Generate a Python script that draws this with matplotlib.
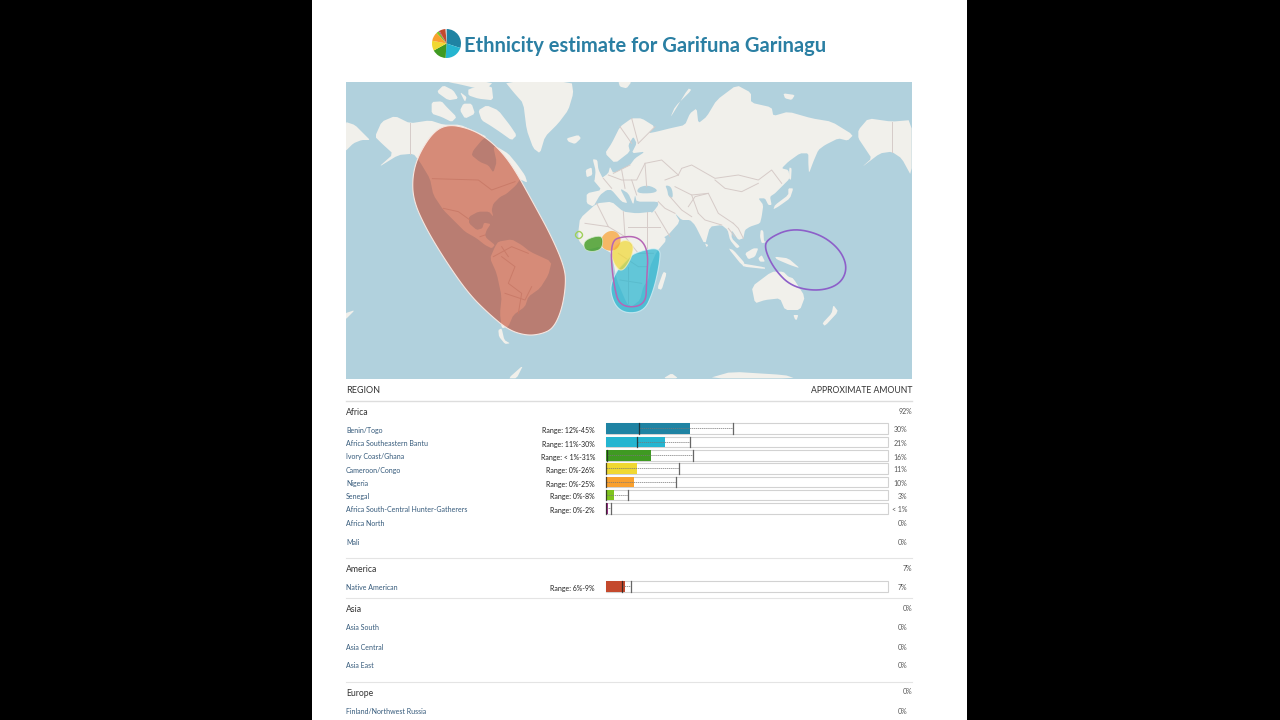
import matplotlib
matplotlib.use('Agg')
import numpy as np
import matplotlib.pyplot as plt
from matplotlib.patches import Polygon, Rectangle

plt.rcParams['font.family'] = ['Lato', 'DejaVu Sans']

# rows of the table
regions = ['Benin/Togo', 'Africa Southeastern Bantu', 'Ivory Coast/Ghana', 'Cameroon/Congo', 'Nigeria',
           'Senegal', 'Africa South-Central Hunter-Gatherers', 'Native American']
amounts = [30, 21, 16, 11, 10, 3, 0.8, 7]
amount_labels = ['30%', '21%', '16%', '11%', '10%', '3%', '< 1%', '7%']
range_low = [12, 11, 0.7, 0, 0, 0, 0, 6]
range_high = [45, 30, 31, 26, 25, 8, 2, 9]
range_labels = ['Range: 12%-45%', 'Range: 11%-30%', 'Range: < 1%-31%', 'Range: 0%-26%', 'Range: 0%-25%',
                'Range: 0%-8%', 'Range: 0%-2%', 'Range: 6%-9%']
bar_colors = ['#1f83a3', '#25b5d0', '#3f9a22', '#f0d832', '#f9a02e', '#7fc41f', '#a0308a', '#c4492d']
row_y = [430, 443.5, 457, 470, 483.5, 496.5, 510, 588]

empty_regions = ['Africa North', 'Mali', 'Asia South', 'Asia Central', 'Asia East', 'Finland/Northwest Russia']
empty_y = [523, 542.5, 627, 647, 666, 711.5]
groups = ['Africa', 'America', 'Asia', 'Europe']
group_amounts = ['92%', '7%', '0%', '0%']
group_y = [412.5, 570, 610, 693.5]
rule_y = [558, 598, 682]

# pie icon next to the title, the last slice is the unassigned rest
pie_shares = [30, 21, 16, 11, 10, 3, 1, 7, 1]
pie_colors = bar_colors + ['#d5dbe0']

# map outlines, in map units (3 per pixel, origin at the map corner)
ocean = '#b1d1dd'
land = '#f1f0eb'

north_america = [(90, 170), (110, 125), (150, 108), (195, 130), (255, 121), (295, 134), (345, 134), (395, 156), (425, 170),
                 (410, 181), (385, 211), (380, 226), (405, 246), (430, 256), (445, 278), (455, 246), (445, 201),
                 (457, 201), (490, 221), (515, 251), (540, 286), (547, 308), (525, 298), (513, 316), (485, 341),
                 (465, 351), (445, 371), (440, 390), (445, 410), (432, 395), (400, 395), (372, 410), (372, 430),
                 (395, 450), (412, 445), (417, 428), (437, 432), (425, 450), (420, 465), (425, 475), (450, 495),
                 (440, 505), (420, 495), (395, 475), (360, 455), (335, 430), (295, 390), (265, 345), (255, 296),
                 (225, 246), (205, 221), (160, 225), (100, 262), (145, 222), (110, 190)]
south_america = [(460, 485), (500, 478), (530, 495), (555, 515), (620, 545), (610, 585), (585, 625), (550, 650), (540, 680),
                 (505, 705), (490, 740), (470, 745), (465, 700), (470, 650), (455, 580), (435, 535), (450, 500)]
tierra_del_fuego = [(460, 750), (470, 745), (478, 780), (495, 790), (480, 792), (462, 770)]
chukotka = [(0, 125), (30, 135), (60, 165), (75, 180), (50, 180), (25, 190), (0, 215)]
greenland = [(480, 5), (680, 5), (685, 40), (670, 90), (640, 130), (600, 170), (585, 220), (565, 205), (545, 150),
             (535, 70), (505, 36)]
iceland = [(665, 175), (700, 165), (708, 175), (690, 192), (670, 185)]
svalbard = [(820, 5), (860, 5), (845, 25), (825, 20)]
arctic_islands = [
    [(260, 66), (290, 64), (305, 81), (335, 111), (320, 126), (290, 111), (260, 101)],
    [(295, 16), (325, 31), (340, 56), (310, 61), (275, 36)],
    [(355, 71), (380, 71), (390, 101), (360, 116), (345, 91)],
    [(400, 91), (425, 76), (460, 91), (495, 136), (515, 166), (500, 181), (465, 156), (435, 136), (410, 121)],
    [(370, 26), (440, 16), (445, 61), (400, 56), (370, 46)],
    [(305, 6), (445, 6), (420, 31), (340, 12)],
    [(345, 36), (365, 51), (360, 66)],
]
britain = [(743, 237), (757, 240), (760, 268), (775, 298), (748, 308), (752, 272)]
ireland = [(722, 270), (740, 262), (742, 285), (725, 292)]
eurasia = [(860, 115), (890, 115), (930, 140), (910, 160), (935, 155), (975, 145), (1020, 135), (1035, 100), (1055, 85),
           (1060, 130), (1085, 110), (1115, 60), (1175, 15), (1218, 38), (1218, 68), (1280, 82), (1285, 108),
           (1330, 95), (1400, 115), (1460, 125), (1525, 165), (1508, 182), (1480, 175), (1440, 195), (1420, 210),
           (1405, 245), (1392, 280), (1390, 250), (1390, 220), (1365, 220), (1330, 245), (1310, 265), (1330, 270),
           (1335, 295), (1300, 330), (1290, 340), (1275, 350), (1280, 375), (1270, 375), (1260, 355), (1240, 355),
           (1255, 375), (1250, 410), (1245, 430), (1215, 440), (1200, 450), (1195, 475), (1180, 480), (1160, 450),
           (1160, 475), (1185, 500), (1175, 505), (1155, 480), (1148, 450), (1130, 435), (1095, 440), (1080, 495),
           (1050, 435), (1035, 420), (1010, 420), (990, 400), (1005, 425), (965, 470), (925, 475), (905, 410),
           (925, 395), (940, 375), (938, 365), (875, 365), (870, 345), (865, 375), (850, 340), (825, 325), (848, 370),
           (830, 365), (800, 330), (785, 330), (765, 345), (745, 380), (725, 370), (725, 340), (770, 330), (745, 300),
           (755, 305), (790, 280), (795, 260), (805, 280), (855, 255), (870, 235), (900, 215), (860, 220), (875, 190),
           (865, 170), (850, 195), (855, 215), (810, 250), (780, 220), (800, 190), (825, 140)]
black_sea = [(880, 322), (910, 315), (940, 330), (925, 340), (875, 340)]
caspian = [(960, 315), (980, 320), (985, 355), (970, 350), (967, 330)]
africa = [(700, 455), (705, 415), (755, 370), (800, 365), (835, 395), (875, 400), (925, 395), (945, 455), (965, 480), (935, 515),
          (915, 560), (910, 600), (895, 620), (885, 660), (860, 680), (845, 670), (815, 600), (800, 520), (765, 500),
          (725, 510), (700, 480)]
madagascar = [(955, 575), (965, 580), (950, 630), (937, 625)]
sri_lanka = [(1080, 490), (1090, 495), (1085, 502)]
japan = [(1345, 325), (1335, 355), (1300, 380), (1285, 388), (1290, 375), (1330, 345), (1330, 325)]
sakhalin = [(1333, 262), (1340, 265), (1338, 300), (1332, 296)]
philippines = [(1247, 450), (1255, 452), (1257, 485), (1270, 485), (1250, 490), (1245, 470)]
borneo = [(1200, 520), (1225, 505), (1240, 505), (1230, 530), (1210, 538)]
sumatra = [(1150, 505), (1165, 510), (1200, 550), (1190, 555)]
java = [(1190, 550), (1260, 562), (1260, 567), (1195, 560)]
sulawesi = [(1240, 535), (1250, 525), (1260, 545), (1245, 545)]
new_guinea = [(1290, 530), (1330, 535), (1365, 565), (1335, 555), (1295, 538)]
australia = [(1220, 620), (1280, 575), (1315, 575), (1330, 590), (1345, 595), (1380, 650), (1365, 690), (1320, 690),
             (1305, 655), (1260, 660), (1230, 670)]
tasmania = [(1345, 705), (1360, 705), (1355, 720), (1350, 718)]
new_zealand = [(1465, 675), (1480, 695), (1440, 738), (1432, 730), (1460, 700)]
novaya_zemlya = [(975, 115), (1030, 25), (1040, 30), (990, 80)]
severnaya = [(1315, 40), (1350, 45), (1340, 60), (1320, 55)]
alaska = [(1540, 150), (1570, 115), (1640, 125), (1700, 120), (1700, 290), (1670, 235), (1640, 215), (1605, 220),
          (1550, 262), (1580, 235), (1560, 205), (1540, 175)]
antarctica_a = [(955, 895), (980, 880), (1000, 895)]
antarctica_b = [(1090, 895), (1160, 875), (1320, 885), (1350, 895)]
antarctic_tip = [(490, 895), (535, 855), (515, 895)]
aleutian_end = [(0, 700), (30, 690), (0, 720)]
land_shapes = [north_america, south_america, tierra_del_fuego, chukotka, greenland, iceland, svalbard, britain, ireland,
               eurasia, africa, madagascar, sri_lanka, japan, sakhalin, philippines, borneo, sumatra, java, sulawesi,
               new_guinea, australia, tasmania, new_zealand, novaya_zemlya, severnaya, alaska, antarctica_a,
               antarctica_b, antarctic_tip, aleutian_end] + arctic_islands
inland_seas = [black_sea, caspian]

borders = [[(195, 130), (195, 222)], [(262, 296), (400, 300), (440, 330), (510, 305)], [(295, 385), (340, 395), (375, 420)],
           [(1640, 125), (1640, 215)],
           [(405, 470), (420, 465)], [(470, 530), (510, 560), (490, 610), (530, 640), (520, 700)],
           [(445, 530), (500, 500), (550, 520)], [(480, 640), (540, 660), (560, 620)], [(470, 500), (490, 530)],
           [(1000, 285), (1010, 265), (1040, 255), (1110, 295), (1180, 285), (1240, 300), (1280, 270), (1310, 310)],
           [(1110, 300), (1140, 325), (1190, 335), (1240, 310)],
           [(990, 320), (1040, 345), (1090, 340), (1120, 400), (1165, 430)],
           [(975, 350), (1010, 390), (1040, 410)], [(1040, 345), (1060, 400)], [(1090, 340), (1050, 350), (1030, 380)],
           [(1060, 400), (1080, 420), (1130, 435)], [(1165, 430), (1180, 445), (1195, 475)], [(1150, 445), (1170, 470)],
           [(825, 140), (860, 190)], [(860, 115), (880, 190)], [(880, 190), (930, 140)],
           [(790, 285), (830, 300), (875, 300), (900, 250), (950, 240), (1000, 285)], [(775, 295), (800, 325)],
           [(830, 270), (840, 325)], [(860, 300), (875, 345)], [(900, 250), (905, 320)], [(805, 280), (855, 255)],
           [(960, 300), (1000, 285)], [(940, 365), (960, 385), (990, 400)], [(930, 395), (975, 470)],
           [(755, 370), (790, 440), (840, 470), (835, 395)], [(790, 440), (720, 430)], [(850, 440), (945, 440)],
           [(905, 395), (905, 520)], [(840, 470), (880, 520), (925, 520)], [(820, 520), (880, 560), (905, 560)],
           [(825, 600), (890, 610)], [(850, 560), (850, 670)]]

# estimate regions drawn over the map
native_area = [(310, 133), (370, 145), (420, 170), (470, 215), (510, 270), (560, 360), (620, 470), (660, 565), (662, 620),
               (650, 690), (625, 745), (590, 762), (545, 767), (490, 750), (430, 700), (370, 640), (300, 540), (240, 440),
               (205, 360), (202, 290), (220, 225), (265, 155)]
orange_area = [(768, 472), (790, 452), (815, 454), (830, 478), (818, 508), (790, 514), (768, 500)]
yellow_area = [(797, 512), (835, 476), (868, 492), (858, 538), (830, 578), (806, 552)]
green_area = [(716, 484), (745, 470), (774, 468), (772, 506), (745, 516), (718, 510)]
senegal_ring = [(688, 465), (702, 451), (716, 465), (702, 479)]
cyan_area = [(868, 518), (945, 500), (945, 545), (925, 635), (895, 698), (822, 698), (792, 632), (812, 575), (846, 540)]
pink_ring = [(818, 472), (878, 468), (910, 510), (905, 600), (902, 678), (824, 682), (806, 612), (798, 530), (802, 488)]
pacific_ring = [(1268, 476), (1340, 444), (1425, 462), (1485, 508), (1508, 565), (1484, 614), (1420, 634), (1340, 620),
                (1288, 568), (1258, 505)]


def to_px(points):
    p = np.array(points, dtype=float)
    return np.column_stack((345 + p[:, 0] / 3, 80 + p[:, 1] / 3))


def rounded(points, passes=3, cut=0.25):
    # corner cutting, so the hand placed outlines come out as soft curves
    p = np.array(points, dtype=float)
    for _ in range(passes):
        n = np.roll(p, -1, axis=0)
        p = np.column_stack(((1 - cut) * p + cut * n, cut * p + (1 - cut) * n)).reshape(-1, 2)
    return p


fig = plt.figure(figsize=(12.8, 7.2), dpi=100, facecolor='black')
ax = fig.add_axes([0, 0, 1, 1])
ax.set_xlim(0, 1280)
ax.set_ylim(720, 0)
ax.axis('off')
ax.add_patch(Rectangle((312, 0), 655, 720, fc='white', ec='none', zorder=0))

# map
sea = Rectangle((346, 81.5), 566, 297.5, fc=ocean, ec='none', zorder=1)
ax.add_patch(sea)
for shape in land_shapes:
    g = Polygon(to_px(rounded(shape, 1, 0.15)), fc=land, ec='none', zorder=2)
    ax.add_patch(g)
    g.set_clip_path(sea)
for shape in inland_seas:
    ax.add_patch(Polygon(to_px(rounded(shape, 2)), fc=ocean, ec='none', zorder=2.5))
for line in borders:
    xy = to_px(line)
    ax.plot(xy[:, 0], xy[:, 1], color='#d6cbc8', lw=0.7, zorder=3)

ax.add_patch(Polygon(to_px(rounded(native_area)), fc='#c0391a', alpha=0.55, ec='none', zorder=4))
ax.add_patch(Polygon(to_px(rounded(native_area)), fc='none', ec='#f6e6e0', lw=0.8, zorder=4))
ax.add_patch(Polygon(to_px(rounded(cyan_area)), fc='#25b5d0', alpha=0.7, ec='#d8f2f8', lw=0.8, zorder=4))
ax.add_patch(Polygon(to_px(rounded(yellow_area)), fc='#f0d832', alpha=0.7, ec='#faf3c0', lw=0.8, zorder=5))
ax.add_patch(Polygon(to_px(rounded(orange_area)), fc='#f9a02e', alpha=0.7, ec='none', zorder=5))
ax.add_patch(Polygon(to_px(rounded(green_area)), fc='#3f9a22', alpha=0.8, ec='#d9eecf', lw=0.6, zorder=5))
ax.add_patch(Polygon(to_px(rounded(senegal_ring)), fc='none', ec='#9fd05a', lw=1, zorder=5))
ax.add_patch(Polygon(to_px(rounded(pink_ring)), fc='none', ec='#b565b5', lw=1.1, zorder=6))
ax.add_patch(Polygon(to_px(rounded(pacific_ring)), fc='none', ec='#8d5fc9', lw=1.2, zorder=6))

# title and pie icon
ax.text(464, 45.5, 'Ethnicity estimate for Garifuna Garinagu', color='#2a7fa3', fontsize=14.5, fontweight='bold',
        va='center', ha='left')
pie_ax = fig.add_axes([432 / 1280, 1 - 58 / 720, 29 / 1280, 29 / 720])
pie_ax.pie(pie_shares, colors=pie_colors, startangle=90, counterclock=False, radius=1.0)
pie_ax.set_xlim(-1, 1)
pie_ax.set_ylim(-1, 1)

# table text
label_blue = '#34597a'
ax.text(346, 390.5, 'REGION', fontsize=6.5, color='#333333', va='center')
ax.text(912, 390.5, 'APPROXIMATE AMOUNT', fontsize=6.2, color='#333333', va='center', ha='right')
ax.plot([346, 912], [400.5, 400.5], color='#dddddd', lw=1)
for y in rule_y:
    ax.plot([346, 912], [y, y], color='#e4e4e4', lw=0.8)
for name, pct, y in zip(groups, group_amounts, group_y):
    ax.text(346, y, name, fontsize=6.2, color='#333333', va='center')
    ax.text(912, y - 1.5, pct, fontsize=5, color='#555555', va='center', ha='right')
for name, y in zip(empty_regions, empty_y):
    ax.text(346, y, name, fontsize=5, color=label_blue, va='center')
    ax.text(907, y, '0%', fontsize=5, color='#555555', va='center', ha='right')
for name, pct, rng, y in zip(regions, amount_labels, range_labels, row_y):
    ax.text(346, y, name, fontsize=5, color=label_blue, va='center')
    ax.text(907, y, pct, fontsize=5, color='#555555', va='center', ha='right')
    ax.text(595, y + 0.5, rng, fontsize=5, color='#222222', va='center', ha='right')

# bars share the pixel rows but run on a 0-100 percent scale
bar_ax = fig.add_axes([605.5 / 1280, 0, 282.5 / 1280, 1])
bar_ax.set_xlim(0, 100)
bar_ax.set_ylim(720, 0)
bar_ax.axis('off')
bar_ax.patch.set_alpha(0)
bar_y = [y - 1.7 for y in row_y]
bar_ax.barh(bar_y, [100] * len(bar_y), height=10.5, color='white', edgecolor='#d2d2d2', linewidth=0.8, clip_on=False)
bar_ax.barh(bar_y, amounts, height=10.5, color=bar_colors, edgecolor='none')
for y, lo, hi in zip(bar_y, range_low, range_high):
    bar_ax.plot([lo, hi], [y, y], color='#777777', lw=0.5, ls=(0, (2, 1)))
    bar_ax.plot([lo, lo], [y - 5.2, y + 5.2], color='#1c1c1c', lw=0.9, alpha=0.75, clip_on=False)
    bar_ax.plot([hi, hi], [y - 5.2, y + 5.2], color='#666666', lw=0.9)

fig.savefig('out.png', dpi=100, facecolor='black')
